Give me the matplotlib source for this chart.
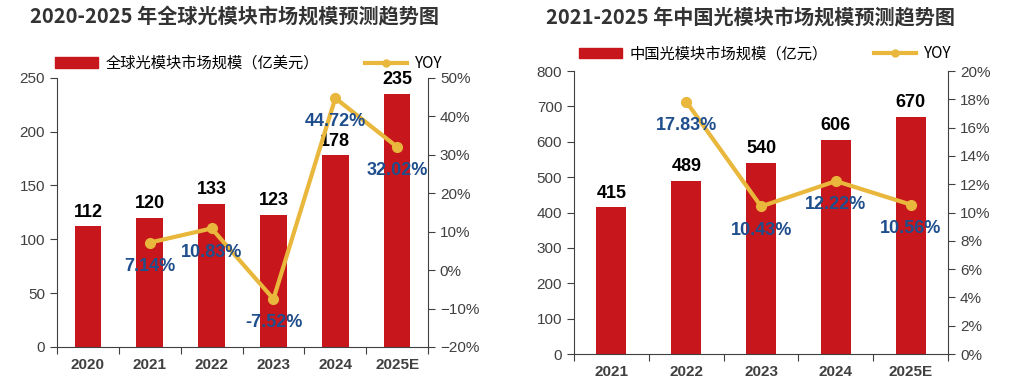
import matplotlib
matplotlib.use("Agg")
import matplotlib.pyplot as plt
from matplotlib.lines import Line2D
from matplotlib.patches import Patch
import numpy as np

# ---- data ----
g_years = ["2020", "2021", "2022", "2023", "2024", "2025E"]
g_market = [112, 120, 133, 123, 178, 235]
g_yoy = [None, 7.14, 10.83, -7.52, 44.72, 32.02]

c_years = ["2021", "2022", "2023", "2024", "2025E"]
c_market = [415, 489, 540, 606, 670]
c_yoy = [None, 17.83, 10.43, 12.22, 10.56]

g_title = "2020-2025 年全球光模块市场规模预测趋势图"
c_title = "2021-2025 年中国光模块市场规模预测趋势图"
g_bar_label = "全球光模块市场规模（亿美元）"
c_bar_label = "中国光模块市场规模（亿元）"
yoy_label = "YOY"

RED = "#C8161D"
GOLD = "#E8B73C"
BLUE = "#1F4E8C"
GRAY = "#404040"
LAT = ["Liberation Sans", "DejaVu Sans"]
CJK = ["Noto Sans CJK SC", "DejaVu Sans"]

plt.rcParams['font.family'] = LAT

fig = plt.figure(figsize=(10.11, 3.84), dpi=100)


def draw(rect, years, market, yoy, ylim, yticks, y2lim, y2ticks, barw, title,
         title_x, bar_label, leg_anchor):
    ax = fig.add_axes(rect)
    x = np.arange(len(years))
    ax.bar(x, market, width=barw, color=RED, zorder=2)
    ax.set_xlim(-0.5, len(years) - 0.5)
    ax.set_ylim(*ylim)
    ax.set_yticks(yticks)
    ax.set_xticks(x)
    ax.set_xticklabels(years)
    ax.set_xticks(np.arange(-0.5, len(years)), minor=True)
    ax.tick_params(axis='x', which='major', length=0, pad=8, labelsize=11,
                   labelcolor=GRAY)
    ax.tick_params(axis='x', which='minor', length=5, color=GRAY, width=0.8)
    ax.tick_params(axis='y', length=5, color=GRAY, width=0.8, labelsize=11,
                   labelcolor=GRAY)
    for lab in ax.get_xticklabels():
        lab.set_fontweight('bold')
    ax.spines['top'].set_visible(False)
    ax.spines['right'].set_visible(False)
    for s in ('left', 'bottom'):
        ax.spines[s].set_color(GRAY)
        ax.spines[s].set_linewidth(0.8)
    for xi, v in zip(x, market):
        ax.annotate(str(v), (xi, v), xytext=(0, 4), textcoords='offset points',
                    ha='center', va='bottom', fontsize=13, fontweight='bold',
                    color='black', zorder=5)

    ax2 = ax.twinx()
    xs = [xi for xi, v in zip(x, yoy) if v is not None]
    ys = [v for v in yoy if v is not None]
    ax2.plot(xs, ys, color=GOLD, lw=3, marker='o', ms=7, zorder=3)
    ax2.set_ylim(*y2lim)
    ax2.set_yticks(y2ticks)
    ax2.set_yticklabels([f"{t:.0f}%".replace('-', '−') for t in y2ticks])
    ax2.tick_params(axis='y', length=5, color=GRAY, width=0.8, labelsize=11,
                    labelcolor=GRAY)
    ax2.spines['top'].set_visible(False)
    ax2.spines['left'].set_visible(False)
    ax2.spines['bottom'].set_visible(False)
    ax2.spines['right'].set_color(GRAY)
    ax2.spines['right'].set_linewidth(0.8)
    for xi, v in zip(xs, ys):
        ax2.annotate(f"{v:.2f}%", (xi, v), xytext=(0, -11), textcoords='offset points',
                     ha='center', va='top', fontsize=13, fontweight='bold',
                     color=BLUE, zorder=6)

    fig.text(title_x, 0.955, title, ha='center', va='center', fontsize=14.5,
             fontweight='bold', color='#333333', family=CJK)

    handles = [Patch(color=RED), Line2D([0], [0], color=GOLD, lw=3, marker='o', ms=5)]
    ax.legend(handles, [bar_label, yoy_label], ncol=2, loc='center',
              bbox_to_anchor=leg_anchor, bbox_transform=fig.transFigure,
              frameon=False, columnspacing=3,
              handlelength=2.8, handletextpad=0.5,
              prop={'family': CJK, 'size': 11})


draw([0.0564, 0.0964, 0.367, 0.701], g_years, g_market, g_yoy,
     (0, 250), range(0, 251, 50), (-20, 50), range(-20, 51, 10), 0.43,
     g_title, 0.232, g_bar_label, (0.246, 0.835))

draw([0.5678, 0.0781, 0.370, 0.737], c_years, c_market, c_yoy,
     (0, 800), range(0, 801, 100), (0, 20), range(0, 21, 2), 0.4,
     c_title, 0.742, c_bar_label, (0.757, 0.86))

fig.savefig("out.png", dpi=100)
